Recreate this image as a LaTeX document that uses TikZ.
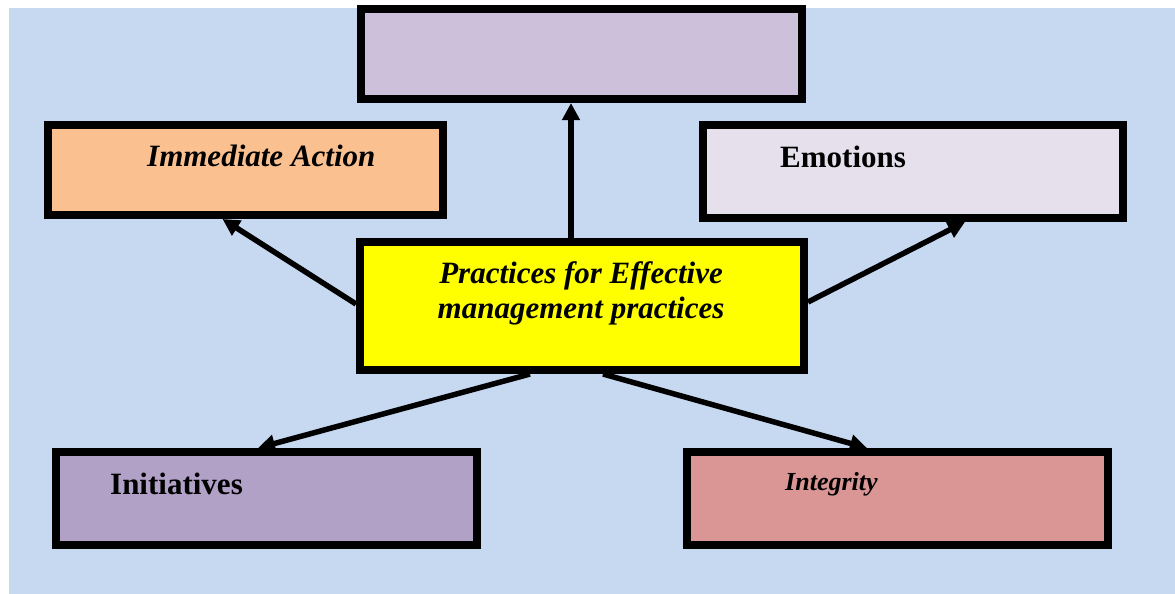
\documentclass[tikz,border=0pt]{standalone}
\usepackage{fontspec}
\setmainfont{Liberation Serif}
\usetikzlibrary{arrows.meta}
\definecolor{bgblue}{HTML}{C6D9F1}
\definecolor{toplilac}{HTML}{CCC0DA}
\definecolor{peach}{HTML}{FAC090}
\definecolor{palelilac}{HTML}{E5E0EC}
\definecolor{purplebox}{HTML}{B2A1C7}
\definecolor{rosebox}{HTML}{D99694}
\definecolor{brightyellow}{HTML}{FFFF00}
\tikzset{
  box/.style={draw=black, line width=8pt, inner sep=0pt},
  lbl/.style={anchor=base west, inner sep=0pt, font=\fontsize{31}{35}\selectfont\bfseries},
  conn/.style={line width=5.5pt, -{Triangle[length=17pt,width=17pt]}}
}
\begin{document}
\begin{tikzpicture}[x=1pt,y=-1pt]
\useasboundingbox (0,0) rectangle (1175,594);
\fill[bgblue] (9,8) rectangle (1175,594);
% boxes: centre at outer-rect centre, size = outer size - line width
\node[box, fill=toplilac, minimum width=441pt, minimum height=90pt] (top) at (581.5,54) {};
\node[box, fill=peach, minimum width=395pt, minimum height=90pt] (imm) at (245.5,170) {};
\node[box, fill=palelilac, minimum width=420pt, minimum height=93pt] (emo) at (913,171.5) {};
\node[box, fill=brightyellow, minimum width=444pt, minimum height=128pt] (ctr) at (582,306) {};
\node[box, fill=purplebox, minimum width=421pt, minimum height=93pt] (ini) at (266.5,498.5) {};
\node[box, fill=rosebox, minimum width=421pt, minimum height=93pt] (int) at (897.5,498.5) {};
% texts
\node[lbl, font=\fontsize{31}{35}\selectfont\bfseries\itshape] (immt) at (147,166) {Immediate Action};
\node[lbl] (emot) at (780,167) {Emotions};
\node[lbl] (init) at (110,494) {Initiatives};
\node[lbl, font=\fontsize{26}{30}\selectfont\bfseries\itshape] (intt) at (785,490) {Integrity};
\node[anchor=base, inner sep=0pt, align=center, font=\fontsize{31}{35}\selectfont\bfseries\itshape] (ctrt) at (581,318) {Practices for Effective\\management practices};
% connectors
\draw[conn] ([xshift=-11pt]ctr.north) -- ([xshift=-11pt]ctr.north |- top.south);
\draw[conn] ([yshift=2pt]ctr.west) -- ([xshift=-23pt]imm.south);
\draw[conn] ([yshift=4pt]ctr.east) -- ([xshift=52pt]emo.south);
\draw[conn] ([xshift=-52pt]ctr.south) -- ([xshift=-8.5pt]ini.north);
\draw[conn] ([xshift=21pt]ctr.south) -- ([xshift=-30.5pt]int.north);
\end{tikzpicture}
\end{document}
